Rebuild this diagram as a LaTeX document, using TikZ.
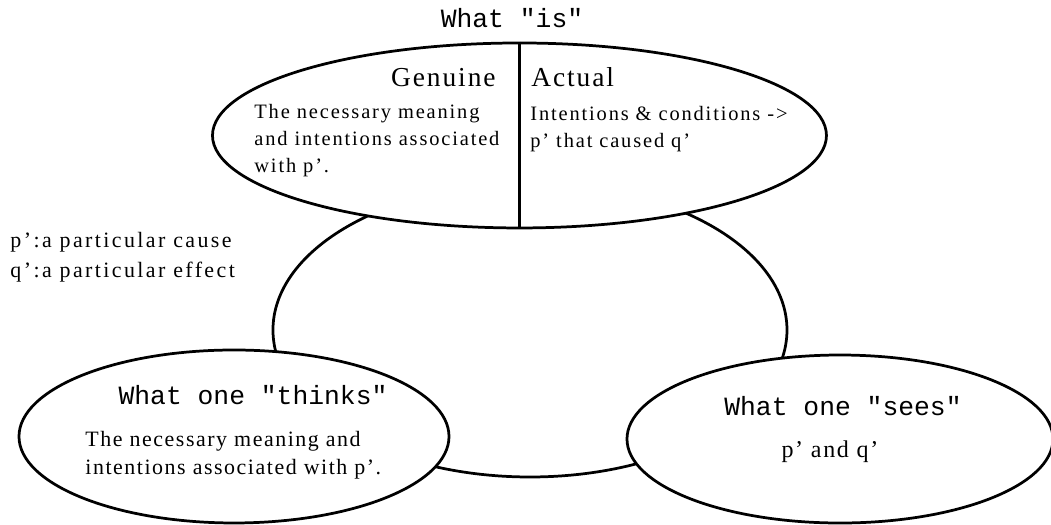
\documentclass[tikz,border=0pt]{standalone}
\usepackage{fontspec}
\setmainfont[LetterSpace=7]{Liberation Serif}
\setmonofont{Liberation Mono}
\usetikzlibrary{shapes.geometric, positioning}
\tikzset{
  % ovale del diagramma
  blob/.style={ellipse, draw=black, line width=1.3pt, fill=white, inner sep=0pt},
  % titolo in caratteri da macchina da scrivere
  head/.style={font=\ttfamily\fontsize{12.5}{15}\selectfont, inner sep=0pt},
  % intestazione di una metà
  half/.style={font=\fontsize{13}{15}\selectfont, inner sep=0pt},
  % testo descrittivo
  desc/.style={font=\fontsize{9.7}{12.8}\selectfont\addfontfeatures{LetterSpace=9},
    align=left, inner sep=0pt},
  bigdesc/.style={font=\fontsize{10.4}{13.3}\selectfont, align=left, inner sep=0pt},
}
\begin{document}
\begin{tikzpicture}
  \useasboundingbox (0,0) rectangle (17.517,8.75);
  % ovali
  \node[blob, minimum width=8.567cm, minimum height=4.9cm] (mid) at (8.833,3.25) {};
  \node[blob, minimum width=10.233cm, minimum height=3.083cm] (is) at (8.658,6.492) {};
  \node[blob, minimum width=7.167cm, minimum height=2.883cm] (thinks) at (3.9,1.475) {};
  \node[blob, minimum width=7.1cm, minimum height=2.8cm] (sees) at (14,1.433) {};
  \draw[line width=1.3pt] (is.north) -- (is.south);
  % testi in alto
  \node[head, anchor=base] (istitle) at (8.533,8.295) {What "is"};
  \node[half, anchor=base east] (genuine) at (8.267,7.3) {Genuine};
  \node[half, anchor=base west] (actual) at (8.85,7.3) {Actual};
  \node[desc, anchor=north west] (genuinetxt) at (4.233,7.017)
    {The necessary meaning\\and intentions associated\\with p'.};
  \node[desc, anchor=north west] (actualtxt) at (8.833,6.983)
    {Intentions \& conditions ->\\p' that caused q'};
  % legenda
  \node[bigdesc, anchor=north west,
    font=\fontsize{10.4}{14.2}\selectfont\addfontfeatures{LetterSpace=11}] (legend) at (0.167,4.883)
    {p':a particular cause\\q':a particular effect};
  % testi in basso
  \node[head, anchor=base] (thinkstitle) at (4.217,2.0) {What one "thinks"};
  \node[bigdesc, anchor=north west] (thinkstxt) at (1.417,1.567)
    {The necessary meaning and\\intentions associated with p'.};
  \node[head, anchor=base] (seestitle) at (14.05,1.817) {What one "sees"};
  \node[bigdesc, anchor=base, font=\fontsize{11.4}{14}\selectfont] (seestxt) at (13.833,1.133) {p' and q'};
\end{tikzpicture}
\end{document}
